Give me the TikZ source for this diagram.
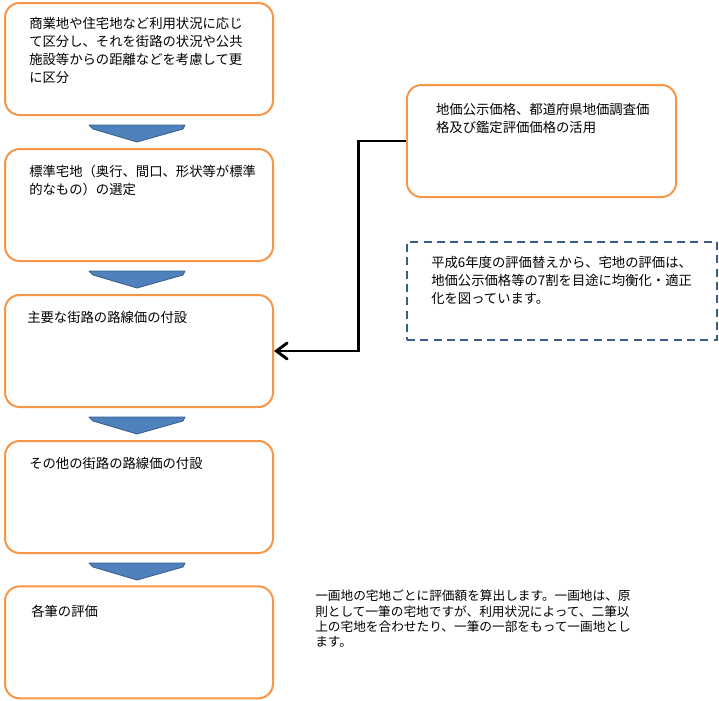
\documentclass[tikz,border=0pt]{standalone}
\usepackage{fontspec}
\newfontfamily\jp{Noto Sans CJK JP}
\usepackage{tikz}
\usetikzlibrary{arrows.meta, positioning, calc}
\usepackage{xcolor}
\definecolor{myorange}{RGB}{247, 150, 70}
\definecolor{myblue}{RGB}{79, 129, 189}
\definecolor{mydarkblue}{RGB}{56, 93, 138}

\tikzset{
  stepbox/.style={draw=myorange, line width=1.5pt, fill=white, rounded corners=11pt, minimum width=201pt, minimum height=84pt, inner sep=0pt},
  txt/.style={anchor=north west, inner sep=0pt, align=left, font=\jp\fontsize{10}{13.5}\selectfont},
  chev/.style={fill=myblue, draw=mydarkblue, line width=0.6pt, line join=round}
}

\begin{document}
\begin{tikzpicture}[x=0.75pt, y=-0.75pt]
                \useasboundingbox (0,0) rectangle (719,701);

                % --- Left column ---
                \node[stepbox] (b1) at (139,59) {};
                \node[stepbox, below=24pt of b1] (b2) {};
                \node[stepbox, below=24pt of b2] (b3) {};
                \node[stepbox, below=24pt of b3] (b4) {};
                \node[stepbox, below=23.5pt of b4] (b5) {};

                \node[txt] (t1) at ($(b1.north west)+(25,15)$) {商業地や住宅地など利用状況に応じ\\て区分し、それを街路の状況や公共\\施設等からの距離などを考慮して更\\に区分};
                \node[txt] (t2) at ($(b2.north west)+(25,17)$) {標準宅地（奥行、間口、形状等が標準\\的なもの）の選定};
                \node[txt] (t3) at ($(b3.north west)+(23,17)$) {主要な街路の路線価の付設};
                \node[txt] (t4) at ($(b4.north west)+(25,17)$) {その他の街路の路線価の付設};
                \node[txt] (t5) at ($(b5.north west)+(27,20)$) {各筆の評価};

                % --- Chevrons ---
                \foreach \a in {b1,b2,b3,b4}
                  \draw[chev] ($(\a.south)+(-50,9)$) -- ($(\a.south)+(46,9)$) -- ($(\a.south)+(44,13)$)
                    -- ($(\a.south)+(-2,26)$) -- ($(\a.south)+(-46,13)$) -- cycle;

                % --- Right side ---
                \node[stepbox, minimum width=202pt] (src) at (541.5,141) {};
                \node[txt] (tsrc) at ($(src.north west)+(30,19)$) {地価公示価格、都道府県地価調査価\\格及び鑑定評価価格の活用};

                \draw[line width=2.2pt, -{Straight Barb[length=8pt, width=12pt, line width=2.2pt, line cap=round]}]
                    (src.west) -- ++(-47,0) |- (b3.east);

                \node[draw=mydarkblue, line width=1.5pt, dash pattern=on 6pt off 4pt, minimum width=232.5pt, minimum height=73.5pt, inner sep=0pt] (note) at (562,291) {};
                \node[txt] (tnote) at ($(note.north west)+(25,15)$) {平成6年度の評価替えから、宅地の評価は、\\地価公示価格等の7割を目途に均衡化・適正\\化を図っています。};

                \node[txt, font=\jp\fontsize{9.5}{11.4}\selectfont] (tlot) at (315,590) {一画地の宅地ごとに評価額を算出します。一画地は、原\\則として一筆の宅地ですが、利用状況によって、二筆以\\上の宅地を合わせたり、一筆の一部をもって一画地とし\\ます。};

            \end{tikzpicture}
\end{document}
